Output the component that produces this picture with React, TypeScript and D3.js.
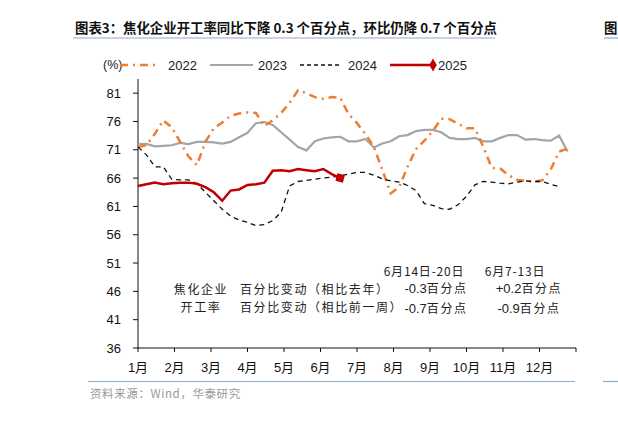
import React from 'react'
import * as d3 from 'd3'

// weekly values (52 weeks per year)
const y2022 = [71.5, 71.8, 73.8, 76.2, 75.0, 72.4, 69.8, 68.3, 72.4, 74.8, 75.8, 77.0, 77.4, 77.6, 77.5, 75.2, 76.2, 77.5, 79.3, 81.5, 81.0, 80.3, 80.0, 80.3, 80.2, 77.3, 75.7, 73.8, 71.5, 67.5, 63.3, 64.4, 68.0, 71.1, 72.6, 74.3, 76.5, 76.4, 75.6, 74.8, 74.8, 71.5, 67.8, 67.7, 66.5, 65.7, 65.5, 65.4, 65.6, 67.5, 70.7, 71.2]
const y2023 = [72.0, 72.05, 71.6, 71.7, 71.8, 72.2, 72.0, 72.4, 72.4, 72.3, 72.1, 72.4, 73.2, 74.0, 75.7, 75.9, 75.4, 74.1, 72.8, 71.5, 70.9, 72.5, 73.0, 73.2, 73.3, 72.5, 72.5, 72.9, 71.4, 72.1, 72.5, 73.4, 73.6, 74.3, 74.5, 74.5, 74.1, 73.1, 72.9, 72.9, 73.1, 72.5, 72.5, 73.1, 73.6, 73.6, 72.8, 72.9, 72.7, 72.6, 73.5, 70.7]
const y2024 = [71.5, 70.1, 68.0, 68.0, 65.8, 65.7, 65.7, 65.0, 63.5, 62.0, 60.5, 59.3, 58.6, 58.2, 57.6, 57.8, 58.5, 60.0, 64.6, 65.4, 65.6, 65.8, 66.0, 66.2, 66.4, 66.7, 67.0, 67.0, 66.5, 65.9, 65.5, 65.3, 64.7, 63.8, 61.5, 61.2, 60.6, 60.5, 61.3, 62.8, 64.8, 65.4, 65.3, 65.1, 65.0, 65.3, 65.5, 65.4, 65.4, 64.9, 64.5]
const y2025 = [64.6, 64.9, 65.2, 64.9, 65.1, 65.2, 65.2, 65.0, 64.4, 63.5, 62.0, 63.8, 64.0, 64.8, 64.9, 65.2, 67.3, 67.4, 67.2, 67.6, 67.4, 67.2, 67.6, 66.7, 66.0]

const months = ['1月', '2月', '3月', '4月', '5月', '6月', '7月', '8月', '9月', '10月', '11月', '12月']
const yTicks = [36, 41, 46, 51, 56, 61, 66, 71, 76, 81]

const rowLabels = ['焦化企业', '开工率']
const rowDesc = ['百分比变动（相比去年）', '百分比变动（相比前一周）']
const colHeads = ['6月14日-20日', '6月7-13日']
const colVals = [['-0.3', '+0.2'], ['-0.7', '-0.9']]

const SANS = 'Arial, "Liberation Sans", "Noto Sans CJK SC", sans-serif'
const CJK = '"Noto Sans CJK SC", sans-serif'

export default function App() {
  const x = d3.scaleLinear().domain([0, 12]).range([138, 576])
  const y = d3.scaleLinear().domain([36, 83.5]).range([348, 79])
  const wx = (i: number) => x((i * 12) / 52)
  const line = d3.line<number>().x((_, i) => wx(i)).y(d => y(d))

  const last = y2025.length - 1
  const markerPath = d3.symbol(d3.symbolSquare, 60)() as string
  const legendDiamond = d3.symbol(d3.symbolDiamond, 50)() as string

  return (
    <svg width={618} height={432} style={{ position: 'absolute', left: 0, top: 0, background: '#fff' }}>
      {/* title */}
      <text x={75} y={33} fontFamily={CJK} fontSize={13.4} fontWeight="bold" fill="#111">
        图表3：焦化企业开工率同比下降 0.3 个百分点，环比仍降 0.7 个百分点
      </text>
      <line x1={73} x2={495} y1={38} y2={38} stroke="#8ea9cf" strokeWidth={1.2} />
      <text x={604} y={33} fontFamily={CJK} fontSize={13.4} fontWeight="bold" fill="#111">图</text>
      <line x1={604} x2={618} y1={38} y2={38} stroke="#8ea9cf" strokeWidth={1.2} />

      {/* legend */}
      <text x={103} y={69} fontFamily={SANS} fontSize={12.5} fill="#222">(%)</text>
      <line x1={120} x2={160} y1={65} y2={65} stroke="#ED7D31" strokeWidth={2.5} strokeDasharray="8,5,2,5" />
      <text x={168} y={70} fontFamily={SANS} fontSize={13} fill="#222">2022</text>
      <line x1={210} x2={253} y1={65} y2={65} stroke="#A5A5A5" strokeWidth={2.2} />
      <text x={258} y={70} fontFamily={SANS} fontSize={13} fill="#222">2023</text>
      <line x1={300} x2={340} y1={65} y2={65} stroke="#111" strokeWidth={1.3} strokeDasharray="4,3" />
      <text x={348} y={70} fontFamily={SANS} fontSize={13} fill="#222">2024</text>
      <line x1={390} x2={433} y1={65} y2={65} stroke="#C00000" strokeWidth={2.5} />
      <path d={legendDiamond} transform="translate(433,65)" fill="#C00000" />
      <text x={438} y={70} fontFamily={SANS} fontSize={13} fill="#222">2025</text>

      {/* axes */}
      <line x1={138} x2={138} y1={79} y2={348} stroke="#111" strokeWidth={1} />
      {yTicks.map(t => (
        <g key={t}>
          <line x1={133} x2={138} y1={y(t)} y2={y(t)} stroke="#111" />
          <text x={121} y={y(t) + 4.5} textAnchor="end" fontFamily={SANS} fontSize={13} fill="#111">{t}</text>
        </g>
      ))}
      <line x1={138} x2={576} y1={348} y2={348} stroke="#111" strokeWidth={1} />
      {d3.range(13).map(i => (
        <line key={i} x1={x(i)} x2={x(i)} y1={348} y2={352} stroke="#111" />
      ))}
      {months.map((m, i) => (
        <text key={m} x={x(i)} y={372} textAnchor="middle" fontFamily={SANS} fontSize={13} fill="#111">{m}</text>
      ))}

      {/* series */}
      <path d={line(y2023) as string} fill="none" stroke="#A5A5A5" strokeWidth={2.2} />
      <path d={line(y2022) as string} fill="none" stroke="#ED7D31" strokeWidth={2.5} strokeDasharray="8,5,2,5" />
      <path d={line(y2024) as string} fill="none" stroke="#111" strokeWidth={1.3} strokeDasharray="5,4" />
      <path d={line(y2025) as string} fill="none" stroke="#C00000" strokeWidth={2.5} />
      <path d={markerPath} transform={`translate(${wx(last)},${y(y2025[last])}) rotate(15)`} fill="#C00000" />

      {/* annotation table */}
      <g fontFamily={CJK} fontSize={12} fill="#222" letterSpacing={1.6}>
        {rowLabels.map((t, i) => (
          <text key={t} x={201} y={294 + i * 18} textAnchor="middle">{t}</text>
        ))}
        {rowDesc.map((t, i) => (
          <text key={t} x={240} y={294 + i * 18}>{t}</text>
        ))}
        {colHeads.map((t, i) => (
          <text key={t} x={[424, 515][i]} y={276} textAnchor="middle" letterSpacing={0.8}>{t}</text>
        ))}
        {colVals.map((row, r) =>
          row.map((v, c) => (
            <text key={`${r}-${c}`} x={[436, 529][c]} y={293 + r * 20} textAnchor="middle">
              <tspan fontFamily={SANS} fontSize={13} letterSpacing={0}>{v}</tspan>百分点
            </text>
          ))
        )}
      </g>

      {/* source */}
      <line x1={88} x2={575} y1={381.5} y2={381.5} stroke="#8ea9cf" strokeWidth={1.2} />
      <line x1={603} x2={618} y1={381.5} y2={381.5} stroke="#8ea9cf" strokeWidth={1.2} />
      <text x={90} y={398} fontFamily={CJK} fontSize={11.5} fill="#999" letterSpacing={0.6}>资料来源：Wind，华泰研究</text>
    </svg>
  )
}
